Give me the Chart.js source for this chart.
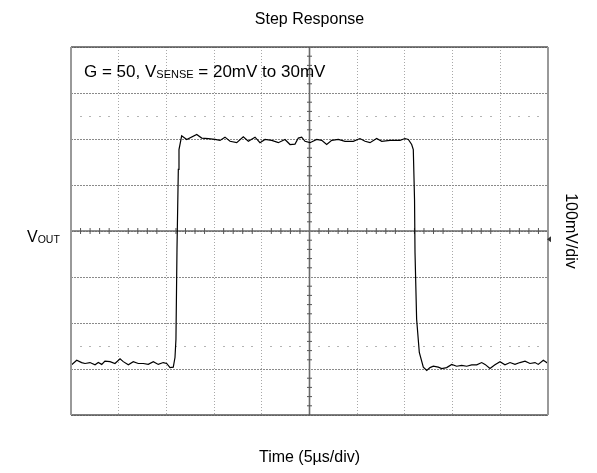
<!DOCTYPE html>
<html><head><meta charset="utf-8">
<script src="https://cdn.jsdelivr.net/npm/chart.js@4.4.0/dist/chart.umd.min.js"></script>
<style>html,body{margin:0;padding:0;background:#fff}#wrap{position:relative;width:597px;height:473px}</style>
</head><body><div id="wrap"><canvas id="c" width="597" height="473"></canvas></div>
<script>
// Time in microseconds (5 µs/div), output in mV (100 mV/div)
const timeUs = [0,0.60,1.12,1.47,1.99,2.52,2.86,3.22,3.56,4.09,
 4.61,5.14,5.48,6.01,6.53,7.05,7.58,8.10,8.63,9.15,
 9.67,10.03,10.38,10.72,10.90,11.00,11.11,11.25,11.32,11.60,
 12.13,13.18,13.70,14.39,15.09,15.62,16.14,16.67,17.37,18.06,
 18.59,19.29,19.81,20.34,21.04,21.73,22.43,22.96,23.48,23.83,
 24.18,24.53,25.05,25.76,26.28,26.80,27.33,28.02,28.72,29.59,
 30.29,30.82,31.34,32.04,32.57,33.44,34.49,35.01,35.36,35.71,
 35.88,36.01,36.06,36.23,36.51,36.93,37.29,37.63,37.98,38.50,
 38.86,39.38,39.91,40.43,40.95,41.48,42.00,42.53,43.05,43.40,
 43.92,44.44,44.97,45.49,46.02,46.54,47.06,47.59,48.11,48.64,
 48.98,49.51,49.86,50.0];
const voutMv = [-292,-281,-286,-288,-286,-291,-286,-290,-283,-284,
 -288,-278,-284,-291,-284,-288,-288,-290,-284,-290,
 -286,-288,-297,-296,-275,-236,-40,134,177,207,
 199,210,202,201,199,197,204,195,192,205,
 195,204,192,199,197,192,199,188,189,202,
 204,195,192,199,197,188,197,199,195,195,
 201,195,192,201,195,197,197,201,199,188,
 177,68,-47,-192,-264,-296,-303,-297,-294,-296,
 -299,-297,-290,-294,-292,-294,-291,-291,-286,-290,
 -299,-291,-284,-291,-286,-290,-286,-283,-288,-286,
 -290,-281,-286,-288];
const xRange = [0, 50];       // µs, 10 divisions
const yRange = [-400, 400];   // mV, 8 divisions
const xStep = 5, yStep = 100;
const dotRowsMv = [250, -250];
const titleText = 'Step Response';
const xLabel = 'Time (5µs/div)';
const yLabel = '100mV/div';

const FONT = '"Liberation Sans", Arial, sans-serif';

const scopePlugin = {
  id: 'scope',
  beforeDatasetsDraw(chart) {
    const {ctx, chartArea: a, scales: {x, y}} = chart;
    ctx.save();
    ctx.fillStyle = '#b4b4b4';
    for (const lv of dotRowsMv) {
      const py = Math.round(y.getPixelForValue(lv));
      for (let t = xRange[0]; t <= xRange[1]; t += 1) {
        if (t % xStep === 0) continue;
        const px = Math.round(x.getPixelForValue(t));
        ctx.fillRect(px - 1, py, 2, 1);
      }
    }
    const cx = x.getPixelForValue((xRange[0] + xRange[1]) / 2);
    const cy = y.getPixelForValue(0);
    ctx.strokeStyle = '#6a6a6a';
    ctx.lineWidth = 1.6;
    ctx.beginPath();
    ctx.moveTo(a.left, cy); ctx.lineTo(a.right, cy);
    ctx.moveTo(cx, a.top); ctx.lineTo(cx, a.bottom);
    ctx.stroke();
    ctx.strokeStyle = '#555';
    ctx.lineWidth = 1;
    ctx.beginPath();
    for (let t = xRange[0]; t <= xRange[1]; t += 1) {
      if (t % xStep === 0) continue;
      const px = x.getPixelForValue(t);
      ctx.moveTo(px, cy - 3); ctx.lineTo(px, cy + 3);
    }
    for (let v = yRange[0]; v <= yRange[1]; v += 20) {
      if (v % yStep === 0) continue;
      const py = y.getPixelForValue(v);
      ctx.moveTo(cx - 2.5, py); ctx.lineTo(cx + 2.5, py);
    }
    ctx.stroke();
    ctx.restore();
  },
  afterDraw(chart) {
    const {ctx, chartArea: a, scales: {x, y}} = chart;
    ctx.save();
    ctx.lineWidth = 1.5;
    ctx.strokeStyle = '#555';
    ctx.beginPath();
    ctx.moveTo(a.left, a.top); ctx.lineTo(a.right, a.top);
    ctx.moveTo(a.left, a.bottom); ctx.lineTo(a.right, a.bottom);
    ctx.stroke();
    ctx.strokeStyle = '#999';
    ctx.lineWidth = 2;
    ctx.beginPath();
    ctx.moveTo(a.left, a.top); ctx.lineTo(a.left, a.bottom);
    ctx.moveTo(a.right, a.top); ctx.lineTo(a.right, a.bottom);
    ctx.stroke();
    const gy = y.getPixelForValue(-18);
    ctx.fillStyle = '#333';
    ctx.beginPath();
    ctx.moveTo(a.right - 1, gy); ctx.lineTo(a.right + 3, gy - 3); ctx.lineTo(a.right + 3, gy + 3); ctx.closePath();
    ctx.fill();

    ctx.fillStyle = '#000';
    ctx.textBaseline = 'alphabetic';
    ctx.font = '16px ' + FONT;
    ctx.textAlign = 'center';
    ctx.fillText(titleText, (a.left + a.right) / 2, 24);
    ctx.fillText(xLabel, (a.left + a.right) / 2, 462);
    ctx.textAlign = 'left';
    let px = 84, base = 77;
    const parts = [['G = 50, V', 17, 0], ['SENSE', 11, 1], [' = 20mV to 30mV', 17, 0]];
    for (const [t, s, d] of parts) {
      ctx.font = s + 'px ' + FONT;
      ctx.fillText(t, px, base + d);
      px += ctx.measureText(t).width;
    }
    px = 27; base = 242;
    for (const [t, s, d] of [['V', 16, 0], ['OUT', 10.5, 1]]) {
      ctx.font = s + 'px ' + FONT;
      ctx.fillText(t, px, base + d);
      px += ctx.measureText(t).width;
    }
    ctx.translate(566, (a.top + a.bottom) / 2);
    ctx.rotate(Math.PI / 2);
    ctx.font = '16px ' + FONT;
    ctx.textAlign = 'center';
    ctx.fillText(yLabel, 0, 0);
    ctx.restore();
  }
};

new Chart(document.getElementById('c'), {
  type: 'line',
  data: {
    datasets: [{
      data: timeUs.map((t, i) => ({x: t, y: voutMv[i]})),
      borderColor: '#000',
      borderWidth: 1.2,
      pointRadius: 0,
      tension: 0,
      fill: false
    }]
  },
  options: {
    responsive: false,
    animation: false,
    devicePixelRatio: 1,
    layout: {padding: {left: 71, right: 49, top: 47, bottom: 58}},
    plugins: {legend: {display: false}, title: {display: false}, tooltip: {enabled: false}},
    scales: {
      x: {
        type: 'linear', min: xRange[0], max: xRange[1],
        ticks: {display: false, stepSize: xStep},
        grid: {color: '#a8a8a8', lineWidth: 1, drawTicks: false},
        border: {display: false, dash: [1, 2]}
      },
      y: {
        type: 'linear', min: yRange[0], max: yRange[1],
        ticks: {display: false, stepSize: yStep},
        grid: {color: '#8a8a8a', lineWidth: 1, drawTicks: false},
        border: {display: false, dash: [2, 1]}
      }
    }
  },
  plugins: [scopePlugin]
});
</script>
</body></html>
